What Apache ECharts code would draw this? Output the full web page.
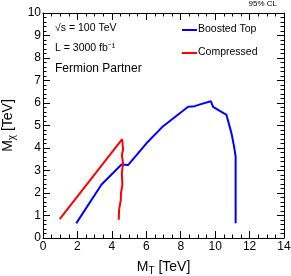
<!DOCTYPE html>
<html><head><meta charset="utf-8">
<script src="https://cdn.jsdelivr.net/npm/echarts@6/dist/echarts.min.js"></script>
<style>html,body{margin:0;padding:0;background:#fff}#c{width:291px;height:276px}</style>
</head><body><div id="c"></div>
<script>
const xTicks = [0, 2, 4, 6, 8, 10, 12, 14];
const yTicks = [0, 1, 2, 3, 4, 5, 6, 7, 8, 9, 10];
const boostedMT = [1.93, 3.40, 4.56, 4.94, 6.01, 6.98, 8.43, 8.82, 9.13, 9.75, 9.88, 10.66, 10.95, 11.10, 11.19, 11.19];
const boostedMchi = [0.65, 2.38, 3.27, 3.24, 4.21, 4.97, 5.83, 5.86, 5.94, 6.08, 5.83, 5.47, 4.65, 4.06, 3.62, 0.66];
const compMT = [0.97, 4.60, 4.71, 4.65, 4.58, 4.65, 4.58, 4.61, 4.53, 4.52, 4.42, 4.40];
const compMchi = [0.84, 4.39, 4.31, 3.91, 3.69, 3.32, 2.88, 2.36, 1.99, 1.70, 1.25, 0.81];

const FONT = 'Liberation Sans';
const chart = echarts.init(document.getElementById('c'), null, {renderer: 'canvas'});
const pairs = (a, b) => a.map((v, i) => [v, b[i]]);
const axisCommon = {
  axisLine: {show: true, onZero: false, lineStyle: {color: '#000', width: 1}},
  axisTick: {show: true, inside: true, length: 7, lineStyle: {color: '#000'}},
  minorTick: {show: true, length: 3.5, lineStyle: {color: '#000'}},
  splitLine: {show: false}
};
const rich = {
  a: {fontFamily: FONT, fontSize: 14, color: '#000'},
  s: {fontFamily: FONT, fontSize: 10, color: '#000', padding: [8, 0, 0, 0]}
};
chart.setOption({
  animation: false,
  grid: {left: 43, top: 13, width: 241, height: 225, containLabel: false, outerBoundsMode: 'none'},
  xAxis: [
    Object.assign({}, axisCommon, {
      type: 'value', min: xTicks[0], max: xTicks[xTicks.length - 1], interval: 2,
      minorTick: Object.assign({}, axisCommon.minorTick, {splitNumber: 4}),
      axisLabel: {fontFamily: FONT, fontSize: 12, color: '#000', margin: 3},
      name: '{a|M}{s|T}{a| [TeV]}', nameLocation: 'middle', nameGap: 20,
      nameTextStyle: {rich: rich}
    }),
    Object.assign({}, axisCommon, {
      type: 'value', position: 'top', min: 0, max: 14, interval: 2,
      minorTick: Object.assign({}, axisCommon.minorTick, {splitNumber: 4}),
      axisLabel: {show: false}
    })
  ],
  yAxis: [
    Object.assign({}, axisCommon, {
      type: 'value', min: yTicks[0], max: yTicks[yTicks.length - 1], interval: 1,
      minorTick: Object.assign({}, axisCommon.minorTick, {splitNumber: 5}),
      axisLabel: {fontFamily: FONT, fontSize: 12, color: '#000', margin: 2},
      name: '{a|M}{s|χ}{a| [TeV]}', nameLocation: 'middle', nameGap: 22, nameRotate: 90,
      nameTextStyle: {rich: rich}
    }),
    Object.assign({}, axisCommon, {
      type: 'value', position: 'right', min: 0, max: 10, interval: 1,
      minorTick: Object.assign({}, axisCommon.minorTick, {splitNumber: 5}),
      axisLabel: {show: false}
    })
  ],
  series: [
    {type: 'line', name: 'Boosted Top', data: pairs(boostedMT, boostedMchi), showSymbol: false,
     lineStyle: {color: '#0000ff', width: 2}},
    {type: 'line', name: 'Compressed', data: pairs(compMT, compMchi), showSymbol: false,
     lineStyle: {color: '#ff0000', width: 2}}
  ],
  graphic: [
    {type: 'text', left: 55, top: 23, style: {text: '√s = 100 TeV', font: '10.5px ' + FONT, fill: '#000'}},
    {type: 'text', left: 55, top: 43, style: {text: 'L = 3000 fb⁻¹', font: '10.5px ' + FONT, fill: '#000'}},
    {type: 'text', left: 55, top: 63, style: {text: 'Fermion Partner', font: '12px ' + FONT, fill: '#000'}},
    {type: 'text', right: 14, top: 0, style: {text: '95% CL', font: '8px ' + FONT, fill: '#000'}},
    {type: 'line', shape: {x1: 182, y1: 30, x2: 197, y2: 30}, style: {stroke: '#0000ff', lineWidth: 2}},
    {type: 'text', left: 198, top: 24, style: {text: 'Boosted Top', font: '10.5px ' + FONT, fill: '#000'}},
    {type: 'line', shape: {x1: 182, y1: 53, x2: 197, y2: 53}, style: {stroke: '#ff0000', lineWidth: 2}},
    {type: 'text', left: 198, top: 47, style: {text: 'Compressed', font: '10.5px ' + FONT, fill: '#000'}}
  ]
});
</script></body></html>
